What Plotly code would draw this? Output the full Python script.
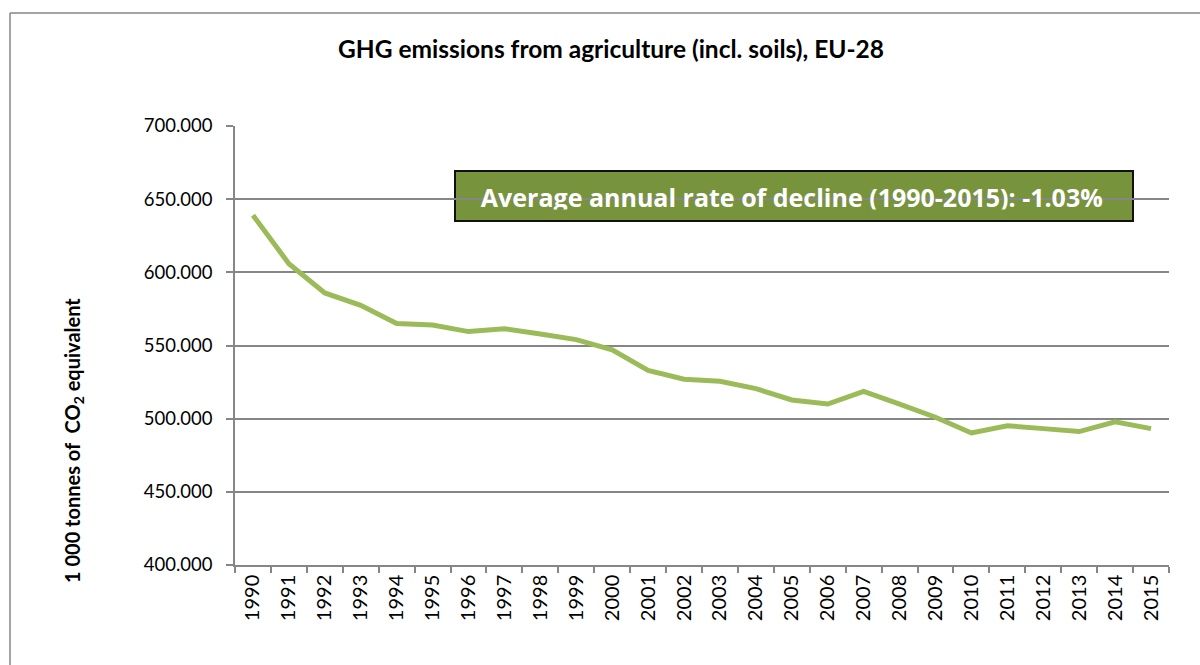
import plotly.graph_objects as go

# GHG emissions from agriculture (incl. soils), EU-28, in 1 000 tonnes CO2 equivalent
years = [str(y) for y in range(1990, 2016)]
emissions = [
    639000, 605900, 585900, 577500, 565000, 564000, 559500, 561500, 557800, 554000,
    547000, 533000, 527000, 525500, 520500, 512800, 510000, 518600, 510000, 501000,
    490200, 495200, 493200, 491200, 497800, 493200,
]
y_ticks = [400000, 450000, 500000, 550000, 600000, 650000, 700000]
y_range = [400000, 700000]

title_text = "GHG emissions from agriculture (incl. soils), EU-28"
y_title = "1 000 tonnes of  CO<sub>2</sub> equivalent"
note_text = "Average annual rate of decline (1990-2015): -1.03%"
note_year = "2005"  # category the note text is centred on

W, H = 1200, 665
L, R, T, B = 235, 31, 126, 100
PW, PH = W - L - R, H - T - B

GRAY = "#868686"
LINE_GREEN = "#9BBB59"
BOX_GREEN = "#77933C"
FONT = "Lato"
NOTE_FONT = "Open Sans"


def px_x(x):
    return (x - L) / PW


def px_y(y):
    return (H - B - y) / PH


def px_to_value(y):
    return y_range[1] - (y - T) / PH * (y_range[1] - y_range[0])


fig = go.Figure()
fig.add_trace(go.Scatter(
    x=years, y=emissions, mode="lines",
    line=dict(color=LINE_GREEN, width=5),
    showlegend=False, hoverinfo="x+y",
))
# note text inside the green box
fig.add_trace(go.Scatter(
    x=[note_year], y=[px_to_value(200.5)], mode="text",
    text=[note_text], textposition="middle center",
    textfont=dict(family=NOTE_FONT, size=25, color="#FFFFFF", weight="bold"),
    showlegend=False, hoverinfo="skip",
))

fig.update_layout(
    width=W, height=H,
    margin=dict(l=L, r=R, t=T, b=B),
    paper_bgcolor="white", plot_bgcolor="white",
    separators=",.",
    font=dict(family=FONT, color="#000000"),
    title=dict(
        text="<b>" + title_text + "</b>",
        x=611 / W, xanchor="center",
        y=1 - 49 / H, yanchor="middle", yref="container",
        font=dict(family=FONT, size=24.5, color="#000000"),
    ),
    xaxis=dict(
        type="category", range=[-0.5, len(years) - 0.5],
        showline=True, linecolor=GRAY, linewidth=1.5,
        ticks="outside", tickson="boundaries", ticklen=6, tickcolor=GRAY, tickwidth=1.5,
        tickangle=-90, tickfont=dict(family=FONT, size=20, color="#000000"),
        showgrid=False, zeroline=False,
    ),
    yaxis=dict(
        range=y_range, tickvals=y_ticks, tickformat=",.0f",
        showline=True, linecolor=GRAY, linewidth=1.5,
        ticks="outside", ticklen=7, tickcolor=GRAY, tickwidth=1.5,
        tickfont=dict(family=FONT, size=18.5, color="#000000"),
        showgrid=True, gridcolor=GRAY, gridwidth=1.5,
        zeroline=False, ticklabelstandoff=10,
    ),
)

shapes = [
    # outer chart frame (top and left edges visible)
    dict(type="line", xref="paper", yref="paper",
         x0=px_x(10), x1=px_x(1210), y0=px_y(13), y1=px_y(13),
         line=dict(color=GRAY, width=1.5)),
    dict(type="line", xref="paper", yref="paper",
         x0=px_x(10), x1=px_x(10), y0=px_y(13), y1=px_y(680),
         line=dict(color=GRAY, width=1.5)),
    # note box: above the gridlines, beneath the traces
    dict(type="rect", xref="paper", yref="paper", layer="between",
         x0=px_x(455), x1=px_x(1133), y0=px_y(221), y1=px_y(171),
         fillcolor=BOX_GREEN, line=dict(color="#111111", width=2)),
    # lower band of the box drawn over the note text
    dict(type="rect", xref="paper", yref="paper", layer="above",
         x0=px_x(456), x1=px_x(1132), y0=px_y(220), y1=px_y(209.5),
         fillcolor=BOX_GREEN, line=dict(width=0)),
]
fig.update_layout(shapes=shapes)

annotations = [
    dict(text="<b>" + y_title + "</b>", textangle=-90,
         xref="paper", yref="paper", x=px_x(73), y=px_y(441),
         xanchor="center", yanchor="middle", showarrow=False,
         font=dict(family=FONT, size=20, color="#000000")),
]
fig.update_layout(annotations=annotations)

fig.write_html("out.html")
